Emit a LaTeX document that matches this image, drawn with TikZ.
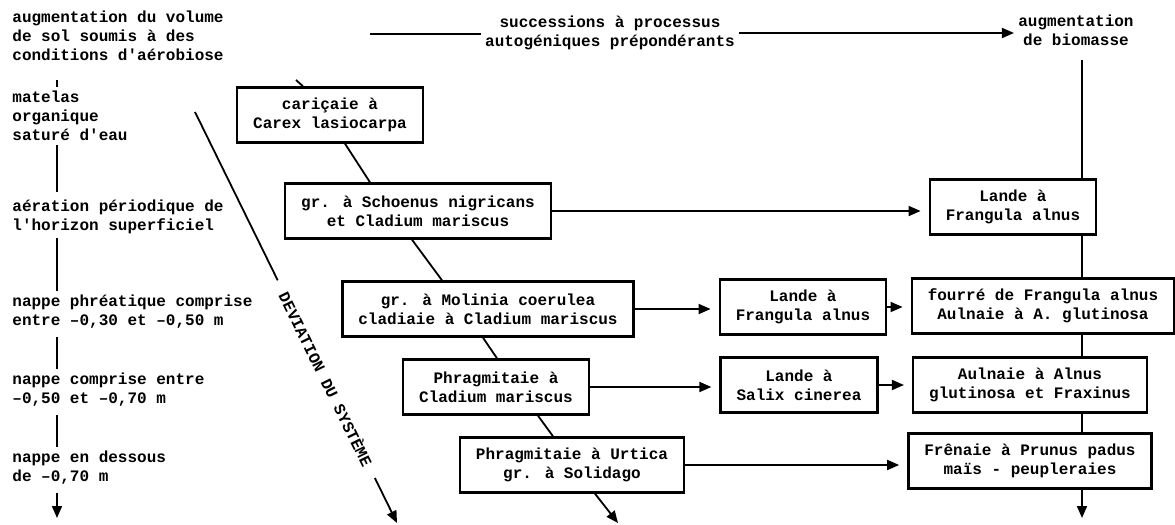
\documentclass[tikz,border=0pt]{standalone}
\usepackage{fontspec}
\newfontfamily\sheetfont{Liberation Mono}
\usetikzlibrary{arrows.meta,calc}
\newcommand{\sheettext}{\sheetfont\bfseries\fontsize{8pt}{9.5pt}\selectfont}
\tikzset{
  vegbox/.style={draw, line width=1.2pt, align=center, font=\sheettext, inner xsep=8pt, inner ysep=2pt, minimum height=27.5pt},
  factor/.style={align=left, font=\sheettext, inner sep=2pt},
  headtext/.style={align=center, font=\sheettext, inner sep=2pt},
  link/.style={line width=0.9pt},
  flow/.style={-{Triangle[length=6pt,width=5pt]}, line width=0.9pt},
  toflow/.style={flow, shorten >=4pt}
}
\begin{document}
\begin{tikzpicture}[x=0.5pt, y=-0.5pt]
  \useasboundingbox (0,0) rectangle (1175,525);
  % facteurs du milieu
  \node[factor, anchor=west] (aerob) at (8,36) {augmentation du volume\\de sol soumis à des\\conditions d'aérobiose};
  \node[factor, anchor=west] (matelas) at (8,116) {matelas\\organique\\saturé d'eau};
  \node[factor, anchor=west] (aeration) at (8,217) {aération périodique de\\l'horizon superficiel};
  \node[factor, anchor=west] (nappeA) at (8,312) {nappe phréatique comprise\\entre –0,30 et –0,50 m};
  \node[factor, anchor=west] (nappeB) at (8,390) {nappe comprise entre\\–0,50 et –0,70 m};
  \node[factor, anchor=west] (nappeC) at (8,468) {nappe en dessous\\de –0,70 m};
  \coordinate (factorend) at (57,518);
  \draw[link] ($(aerob.south west)+(49,15)$) -- ($(matelas.north west)+(49,0)$);
  \draw[link] ($(matelas.south west)+(49,0)$) -- ($(aeration.north west)+(49,-4)$);
  \draw[link] ($(aeration.south west)+(49,0)$) -- ($(nappeA.north west)+(49,0)$);
  \draw[link] ($(nappeA.south west)+(49,4)$) -- ($(nappeB.north west)+(49,0)$);
  \draw[link] ($(nappeB.south west)+(49,4)$) -- ($(nappeC.north west)+(49,0)$);
  \draw[flow] ($(nappeC.south west)+(49,4)$) -- (factorend);

  % successions autogeniques
  \coordinate (succtail) at (370,34);
  \node[headtext] (succ) at (610,33) {successions à processus\\autogéniques prépondérants};
  \node[headtext] (biomass) at (1076,30) {augmentation\\de biomasse};
  \draw[link] (succtail) -- (succtail -| succ.west);
  \draw[flow] (succ.east) -- (succ.east -| biomass.west);

  % groupements
  \node[vegbox] (carex) at (330,115) {cariçaie à\\Carex lasiocarpa};
  \node[vegbox] (schoenus) at (418,211) {gr. à Schoenus nigricans\\et Cladium mariscus};
  \node[vegbox] (molinia) at (488,309) {gr. à Molinia coerulea\\cladiaie à Cladium mariscus};
  \node[vegbox] (phragcl) at (496,387) {Phragmitaie à\\Cladium mariscus};
  \node[vegbox] (urtica) at (572,465) {Phragmitaie à Urtica\\gr. à Solidago};
  \node[vegbox] (landeFr) at (1013,207) {Lande à\\Frangula alnus};
  \node[vegbox] (landeFrB) at (803,307) {Lande à\\Frangula alnus};
  \node[vegbox] (fourre) at (1043,306) {fourré de Frangula alnus\\Aulnaie à A. glutinosa};
  \node[vegbox] (landeSa) at (799,385) {Lande à\\Salix cinerea};
  \node[vegbox] (aulnaie) at (1030,385) {Aulnaie à Alnus\\glutinosa et Fraxinus};
  \node[vegbox] (frenaie) at (1030,461) {Frênaie à Prunus padus\\maïs - peupleraies};

  \coordinate (carextop) at (296,80);
  \coordinate (seriesend) at (618,523);
  \draw[link] (carextop) -- ($(carex.north)+(-27,0)$);
  \draw[link] ($(carex.south)+(15,0)$) -- ($(schoenus.north)+(-48,0)$);
  \draw[link] ($(schoenus.south)+(-6,0)$) -- ($(molinia.north)+(-46,0)$);
  \draw[link] ($(molinia.south)+(-5,0)$) -- ($(phragcl.north)+(1,0)$);
  \draw[link] ($(phragcl.south)+(42,0)$) -- ($(urtica.north)+(-19,0)$);
  \draw[flow] ($(urtica.south)+(23,0)$) -- (seriesend);

  \draw[toflow] (schoenus.east) -- (schoenus.east -| landeFr.west);
  \draw[toflow] (molinia.east) -- (molinia.east -| landeFrB.west);
  \draw[toflow] (phragcl.east) -- (phragcl.east -| landeSa.west);
  \draw[toflow] (landeFrB.east) -- (landeFrB.east -| fourre.west);
  \draw[toflow] (landeSa.east) -- (landeSa.east -| aulnaie.west);
  \draw[toflow] (urtica.east) -- (urtica.east -| frenaie.west);

  \coordinate (spine) at (1082,60);
  \coordinate (spineend) at (1082,518);
  \draw[link] (spine) -- (spine |- landeFr.north);
  \draw[link] (spine |- landeFr.south) -- (spine |- fourre.north);
  \draw[link] (spine |- fourre.south) -- (spine |- aulnaie.north);
  \draw[link] (spine |- aulnaie.south) -- (spine |- frenaie.north);
  \draw[flow] (spine |- frenaie.south) -- (spineend);

  % deviation
  \coordinate (devtop) at (195,112);
  \coordinate (devend) at (397,523);
  \draw[flow] (devtop) -- node[pos=0.65, sloped, fill=white, font=\sheettext, inner xsep=7pt]{DEVIATION DU SYSTÈME} (devend);
\end{tikzpicture}
\end{document}
